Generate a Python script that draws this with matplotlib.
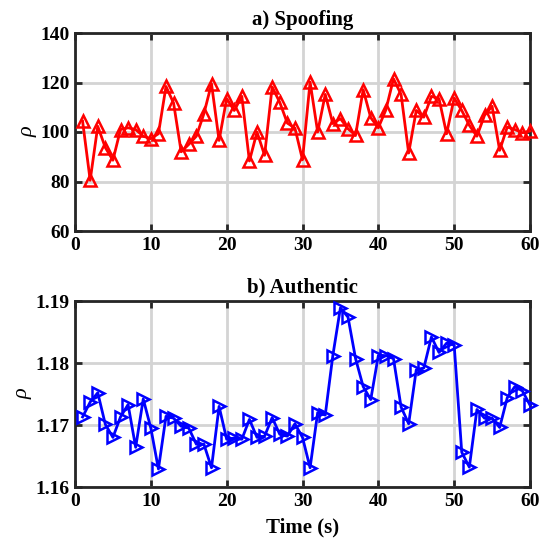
import matplotlib
matplotlib.use("Agg")
import matplotlib.pyplot as plt
import numpy as np

time_s = list(range(1, 61))
spoofing = [104.4, 80.5, 102.3, 93.7, 88.6, 101.0, 101.7, 101.0, 98.3, 97.3,
            99.3, 118.4, 111.7, 92.0, 95.0, 98.3, 107.4, 119.5, 96.6, 113.5,
            108.7, 114.4, 88.3, 100.0, 90.6, 118.2, 112.0, 103.6, 101.6, 88.8,
            120.2, 100.0, 115.2, 103.4, 105.4, 101.3, 98.7, 117.1, 105.8, 101.7,
            109.0, 121.5, 115.2, 91.5, 108.7, 106.0, 114.4, 113.5, 99.3, 113.7,
            108.7, 102.7, 98.3, 106.7, 110.4, 92.6, 102.0, 101.0, 99.7, 100.4]
authentic = [1.1713, 1.1737, 1.1752, 1.1701, 1.1680, 1.1713, 1.1733, 1.1664, 1.1742, 1.1695,
             1.1629, 1.1714, 1.1711, 1.1698, 1.1695, 1.1669, 1.1669, 1.1631, 1.1730, 1.1677,
             1.1679, 1.1677, 1.1709, 1.1680, 1.1682, 1.1712, 1.1685, 1.1682, 1.1702, 1.1680,
             1.1631, 1.1720, 1.1716, 1.1812, 1.1889, 1.1874, 1.1807, 1.1762, 1.1741, 1.1812,
             1.1812, 1.1807, 1.1729, 1.1702, 1.1789, 1.1792, 1.1842, 1.1817, 1.1832, 1.1829,
             1.1656, 1.1632, 1.1725, 1.1711, 1.1711, 1.1696, 1.1744, 1.1762, 1.1755, 1.1732]

x_ticks = [0, 10, 20, 30, 40, 50, 60]
top_yticks = [60, 80, 100, 120, 140]
bot_yticks = [1.16, 1.17, 1.18, 1.19]
bot_ylabels = ['1.16', '1.17', '1.18', '1.19']

plt.rcParams['font.family'] = ['Liberation Serif', 'DejaVu Serif']
plt.rcParams['font.weight'] = 'bold'
plt.rcParams['font.size'] = 14

fig = plt.figure(figsize=(5.48, 5.51), dpi=100)
W, H = 548, 551
ax1 = fig.add_axes([75 / W, 1 - 231 / H, 455 / W, 198 / H])
ax2 = fig.add_axes([75 / W, 1 - 487 / H, 455 / W, 186 / H])

ax1.plot(time_s, spoofing, color='#ff0000', lw=2, marker='^', ms=9,
         mfc='none', mec='#ff0000', mew=1.8, clip_on=False, zorder=3)
ax2.plot(time_s, authentic, color='#0000ff', lw=2, marker='>', ms=9,
         mfc='none', mec='#0000ff', mew=1.8, clip_on=False, zorder=3)

for ax, yt in ((ax1, top_yticks), (ax2, bot_yticks)):
    ax.set_xlim(0, 60)
    ax.set_ylim(yt[0], yt[-1])
    ax.set_xticks(x_ticks)
    ax.set_yticks(yt)
    ax.grid(True, color='#d4d4d4', lw=2)
    ax.set_axisbelow(True)
    ax.tick_params(direction='in', length=5, width=2, top=True, right=True,
                   labelsize=14, pad=4, color='#262626')
    for s in ax.spines.values():
        s.set_linewidth(2)
        s.set_color('#262626')
    for lab in ax.get_xticklabels() + ax.get_yticklabels():
        lab.set_fontweight('bold')
    ax.set_ylabel('ρ', fontsize=16, fontstyle='italic', fontweight='normal',
                  labelpad=2)

ax2.set_yticklabels(bot_ylabels)
ax1.set_title('a) Spoofing', fontsize=15, fontweight='bold', pad=6)
ax2.set_title('b) Authentic', fontsize=15, fontweight='bold', pad=6)
ax2.set_xlabel('Time (s)', fontsize=15, fontweight='bold', labelpad=6)

fig.savefig('out.png', dpi=100)
